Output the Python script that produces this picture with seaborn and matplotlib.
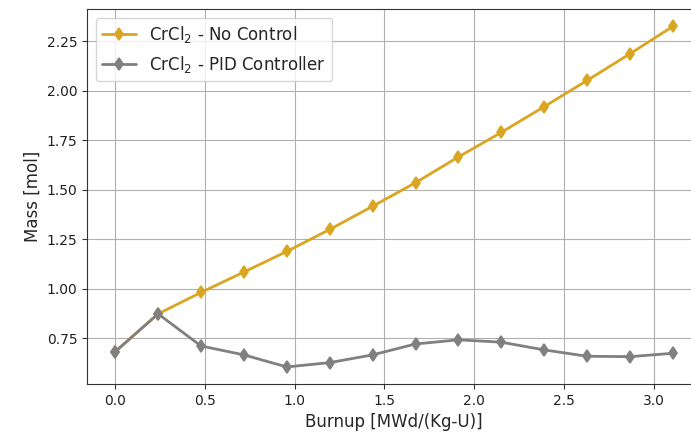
import matplotlib
matplotlib.use("Agg")
import matplotlib.pyplot as plt
import seaborn as sns
import pandas as pd

# Burnup steps [MWd/(Kg-U)]
burnup = [0.0, 0.239, 0.478, 0.717, 0.956, 1.195, 1.434,
          1.673, 1.912, 2.151, 2.390, 2.629, 2.868, 3.107]

# CrCl2 inventory [mol]
no_control = [0.682, 0.873, 0.981, 1.084, 1.188, 1.299, 1.416,
              1.535, 1.665, 1.789, 1.919, 2.051, 2.186, 2.324]
pid_controller = [0.682, 0.873, 0.711, 0.666, 0.605, 0.627, 0.666,
                  0.721, 0.742, 0.730, 0.691, 0.659, 0.657, 0.674]

labels = ["CrCl$_2$ - No Control", "CrCl$_2$ - PID Controller"]
colors = ["goldenrod", "grey"]

df = pd.DataFrame({"burnup": burnup, "no_control": no_control, "pid": pid_controller})

sns.set_style("ticks")
plt.rcParams["font.family"] = ["DejaVu Sans"]

fig = plt.figure(figsize=(6.91, 4.37), dpi=100)
ax = fig.add_axes([0.1263, 0.1213, 0.888, 0.8574])

for col, lab, c in zip(["no_control", "pid"], labels, colors):
    sns.lineplot(data=df, x="burnup", y=col, ax=ax, color=c, marker="d",
                 markersize=6, markeredgecolor=c, markeredgewidth=1.2,
                 linewidth=2, label=lab)

ax.grid(True, color="#b0b0b0", linewidth=0.8)
ax.set_axisbelow(True)
for s in ax.spines.values():
    s.set_color("#333333")
ax.spines["right"].set_visible(False)
ax.tick_params(labelsize=10, colors="#333333", labelcolor="#222222")
ax.set_xlabel("Burnup [MWd/(Kg-U)]", fontsize=12)
ax.set_ylabel("Mass [mol]", fontsize=12)
ax.set_xticks([0.0, 0.5, 1.0, 1.5, 2.0, 2.5, 3.0])
ax.set_yticks([0.75, 1.00, 1.25, 1.50, 1.75, 2.00, 2.25])
ax.legend(loc="upper left", fontsize=12)

fig.savefig("out.png", dpi=100)
